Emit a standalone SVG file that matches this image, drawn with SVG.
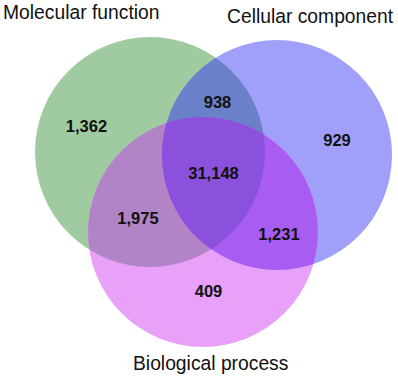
<svg xmlns="http://www.w3.org/2000/svg" width="398" height="378" viewBox="0 0 398 378">
<style>
.lbl{font-family:"Liberation Sans",Arial,sans-serif;font-size:19.3px;fill:#111}
.num{font-family:"Liberation Sans",Arial,sans-serif;font-size:16.5px;font-weight:bold;fill:#111;text-anchor:middle}
</style>
<defs>
<clipPath id="cG"><circle cx="150" cy="152" r="115"/></clipPath>
<clipPath id="cB"><circle cx="277" cy="155" r="115"/></clipPath>
<clipPath id="cP"><circle cx="203" cy="232" r="115"/></clipPath>
</defs>
<rect width="398" height="378" fill="#fff"/>
<g id="molecular-function">
<circle cx="150" cy="152" r="115" fill="#a0cba0"/>
<text class="lbl" x="3" y="18.5">Molecular function</text>
</g>
<g id="cellular-component">
<circle cx="277" cy="155" r="115" fill="#a0a0fa"/>
<text class="lbl" x="227" y="23">Cellular component</text>
</g>
<g id="biological-process">
<circle cx="203" cy="232" r="115" fill="#e8a0f8"/>
<text class="lbl" x="133" y="370">Biological process</text>
</g>
<g id="mf-cc">
<circle cx="277" cy="155" r="115" fill="#6a80c8" clip-path="url(#cG)"/>
</g>
<g id="mf-bp">
<circle cx="203" cy="232" r="115" fill="#b084c6" clip-path="url(#cG)"/>
</g>
<g id="cc-bp">
<circle cx="203" cy="232" r="115" fill="#a85cf2" clip-path="url(#cB)"/>
</g>
<g id="all" clip-path="url(#cG)">
<circle cx="203" cy="232" r="115" fill="#8a52dc" clip-path="url(#cB)"/>
</g>
<g id="counts">
<text class="num" x="86.5" y="132">1,362</text>
<text class="num" x="217.5" y="107.5">938</text>
<text class="num" x="337" y="146">929</text>
<text class="num" x="213.5" y="179">31,148</text>
<text class="num" x="138" y="224">1,975</text>
<text class="num" x="279" y="239.5">1,231</text>
<text class="num" x="208.5" y="297">409</text>
</g>
<g id="connectors"></g>
</svg>
